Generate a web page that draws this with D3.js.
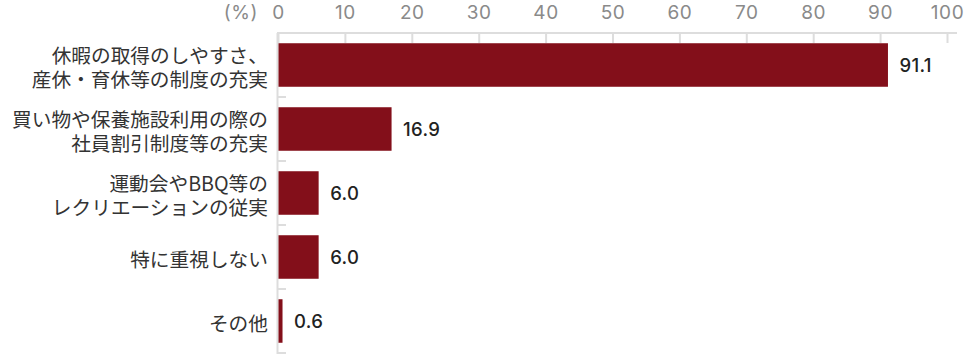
<!DOCTYPE html>
<html><head><meta charset="utf-8">
<script src="https://cdn.jsdelivr.net/npm/d3@7"></script>
<style>
html,body{margin:0;padding:0;background:#fff;}
svg{display:block;}
</style></head>
<body>
<svg id="chart" width="976" height="354"></svg>
<script>
const categories = [
  ["休暇の取得のしやすさ、", "産休・育休等の制度の充実"],
  ["買い物や保養施設利用の際の", "社員割引制度等の充実"],
  ["運動会やBBQ等の", "レクリエーションの従実"],
  ["特に重視しない"],
  ["その他"]
];
const values = [91.1, 16.9, 6.0, 6.0, 0.6];
const tickValues = [0, 10, 20, 30, 40, 50, 60, 70, 80, 90, 100];
const unitLabel = "(%)";

const svg = d3.select("#chart");
const x = d3.scaleLinear().domain([0, 100]).range([278, 947]);
const y = d3.scaleBand().domain(d3.range(values.length)).range([33, 353]).paddingInner(0.32).paddingOuter(0.16);

const axisColor = "#dddddd";
const numFont = "Inter, 'Noto Sans', sans-serif";
const jpFont = "'Noto Sans CJK JP', sans-serif";

// top axis
const xAxis = d3.axisTop(x).tickValues(tickValues).tickSizeInner(-10).tickSizeOuter(0).tickFormat(d3.format("d"));
const gx = svg.append("g").attr("transform", "translate(0,33)").call(xAxis);
gx.select(".domain").remove();
gx.selectAll(".tick line").attr("stroke", axisColor).attr("stroke-width", 2);
gx.selectAll(".tick text").attr("y", -21).attr("dy", "0.35em").attr("fill", "#8a8a8a")
  .attr("font-family", numFont).attr("font-size", 19).attr("letter-spacing", 0.6).attr("font-weight", 400);
svg.append("line").attr("x1", x(0) - 1).attr("x2", x(100) + 10).attr("y1", 33).attr("y2", 33)
  .attr("stroke", axisColor).attr("stroke-width", 2);
svg.append("text").attr("x", 258).attr("y", 12).attr("dy", "0.35em").attr("text-anchor", "end")
  .attr("fill", "#8a8a8a").attr("font-family", numFont).attr("font-size", 19).attr("letter-spacing", 0.6).text(unitLabel);

// left axis
svg.append("line").attr("x1", x(0) - 0.5).attr("x2", x(0) - 0.5).attr("y1", 33).attr("y2", 354)
  .attr("stroke", axisColor).attr("stroke-width", 2);
const gap = (y.step() - y.bandwidth()) / 2;
svg.append("g").selectAll("line").data(d3.range(values.length)).join("line")
  .attr("x1", x(0)).attr("x2", x(0) + 8)
  .attr("y1", d => y(d) + y.bandwidth() + gap)
  .attr("y2", d => y(d) + y.bandwidth() + gap)
  .attr("stroke", axisColor).attr("stroke-width", 2);

// bars
svg.append("g").selectAll("rect").data(values).join("rect")
  .attr("x", x(0) + 0.5)
  .attr("y", (d, i) => y(i))
  .attr("width", d => x(d) - x(0))
  .attr("height", y.bandwidth())
  .attr("fill", "#830f1a");

// value labels
svg.append("g").selectAll("text").data(values).join("text")
  .attr("x", d => x(d) + 12)
  .attr("y", (d, i) => y(i) + y.bandwidth() / 2 + 1)
  .attr("dy", "0.35em")
  .attr("fill", "#222")
  .attr("font-family", numFont).attr("font-size", 18.5).attr("font-weight", 500).attr("letter-spacing", 0.3)
  .text(d => d.toFixed(1));

// category labels
const lab = svg.append("g").selectAll("text").data(categories).join("text")
  .attr("text-anchor", "end")
  .attr("fill", "#333")
  .attr("font-family", jpFont).attr("font-size", 19.7)
  .attr("transform", (d, i) => `translate(268,${y(i) + y.bandwidth() / 2 + 3})`);
lab.each(function(lines) {
  const t = d3.select(this);
  const lh = 24.7;
  lines.forEach((s, k) => {
    t.append("tspan").attr("x", 0)
      .attr("y", (k - (lines.length - 1) / 2) * lh)
      .attr("dy", "0.35em").text(s);
  });
});
</script>
</body></html>
